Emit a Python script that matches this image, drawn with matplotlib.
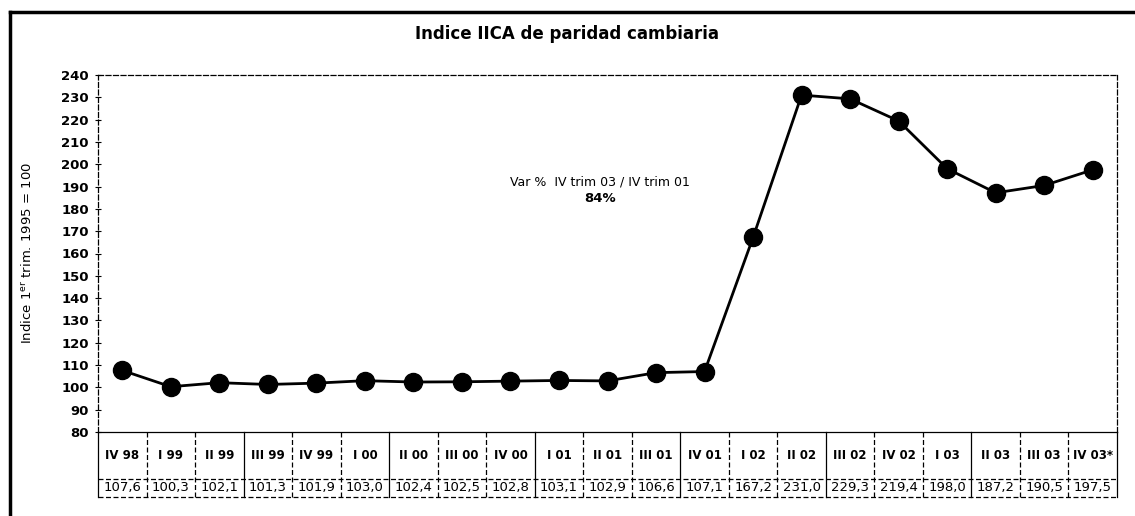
import matplotlib
matplotlib.use("Agg")
import matplotlib.pyplot as plt
from matplotlib.lines import Line2D
import matplotlib.transforms as mtrans

categories = ["IV 98", "I 99", "II 99", "III 99", "IV 99", "I 00", "II 00", "III 00", "IV 00",
              "I 01", "II 01", "III 01", "IV 01", "I 02", "II 02", "III 02", "IV 02",
              "I 03", "II 03", "III 03", "IV 03*"]
values = [107.6, 100.3, 102.1, 101.3, 101.9, 103.0, 102.4, 102.5, 102.8,
          103.1, 102.9, 106.6, 107.1, 167.2, 231.0, 229.3, 219.4,
          198.0, 187.2, 190.5, 197.5]
value_labels = ["107,6", "100,3", "102,1", "101,3", "101,9", "103,0", "102,4", "102,5", "102,8",
                "103,1", "102,9", "106,6", "107,1", "167,2", "231,0", "229,3", "219,4",
                "198,0", "187,2", "190,5", "197,5"]
yticks = list(range(80, 241, 10))

W, H = 1135, 516
fig = plt.figure(figsize=(W / 100, H / 100), dpi=100)
fig.patch.set_facecolor("white")

L, R, T, B = 98, 1117, 75, 432
ax = fig.add_axes([L / W, 1 - B / H, (R - L) / W, (B - T) / H])

n = len(categories)
x = list(range(n))
ax.plot(x, values, color="black", lw=2.0, marker="o", ms=13, mfc="black", mec="black", zorder=3)
ax.set_xlim(-0.5, n - 0.5)
ax.set_ylim(80, 240)
ax.set_yticks(yticks)
ax.set_yticklabels([str(v) for v in yticks], fontsize=9.5, fontweight="bold")
ax.set_xticks([])
ax.tick_params(axis="y", direction="inout", length=5, width=0.8, pad=4)
for s in ax.spines.values():
    s.set_linestyle((0, (4, 2)))
    s.set_linewidth(0.9)
ax.spines["bottom"].set_linestyle("-")
ax.spines["bottom"].set_linewidth(0.9)

ax.set_ylabel("Indice 1$^{\\mathrm{er}}$ trim. 1995 = 100", fontsize=9.5, labelpad=14)
ax.yaxis.set_label_coords(-0.062, 0.5)

# table below axes
tr = mtrans.blended_transform_factory(ax.transData, ax.transAxes)
h_ax = B - T
row1_bottom = -(479 - B) / h_ax
row2_bottom = -(497 - B) / h_ax
dash = (0, (4, 2))
for i in range(n + 1):
    xv = i - 0.5
    ax.add_line(Line2D([xv, xv], [0, row2_bottom], transform=tr, color="black",
                       lw=0.9, ls=dash if i % 3 else "-", clip_on=False))
for yv in (row1_bottom, row2_bottom):
    ax.add_line(Line2D([-0.5, n - 0.5], [yv, yv], transform=tr, color="black",
                       lw=0.9, ls=dash, clip_on=False))
for i in range(n):
    ax.text(i, row1_bottom / 2, categories[i], transform=tr, ha="center", va="center",
            fontsize=8.5, fontweight="bold", clip_on=False)
    ax.text(i, (row1_bottom + row2_bottom) / 2, value_labels[i], transform=tr, ha="center",
            va="center", fontsize=9.5, clip_on=False)

# annotation
ax.text(9.85, 192.0, "Var %  IV trim 03 / IV trim 01", ha="center", va="center", fontsize=9)
ax.text(9.85, 184.5, "84%", ha="center", va="center", fontsize=9.5, fontweight="bold")

# title
fig.text(567 / W, 1 - 34 / H, "Indice IICA de paridad cambiaria", ha="center", va="center",
         fontsize=12, fontweight="bold")

# outer frame (left and top)
fig.add_artist(Line2D([10 / W, 10 / W], [0, 1 - 12 / H], transform=fig.transFigure,
                      color="black", lw=2.5))
fig.add_artist(Line2D([10 / W, 1], [1 - 12 / H, 1 - 12 / H], transform=fig.transFigure,
                      color="black", lw=2.5))

fig.savefig("out.png", dpi=100)
